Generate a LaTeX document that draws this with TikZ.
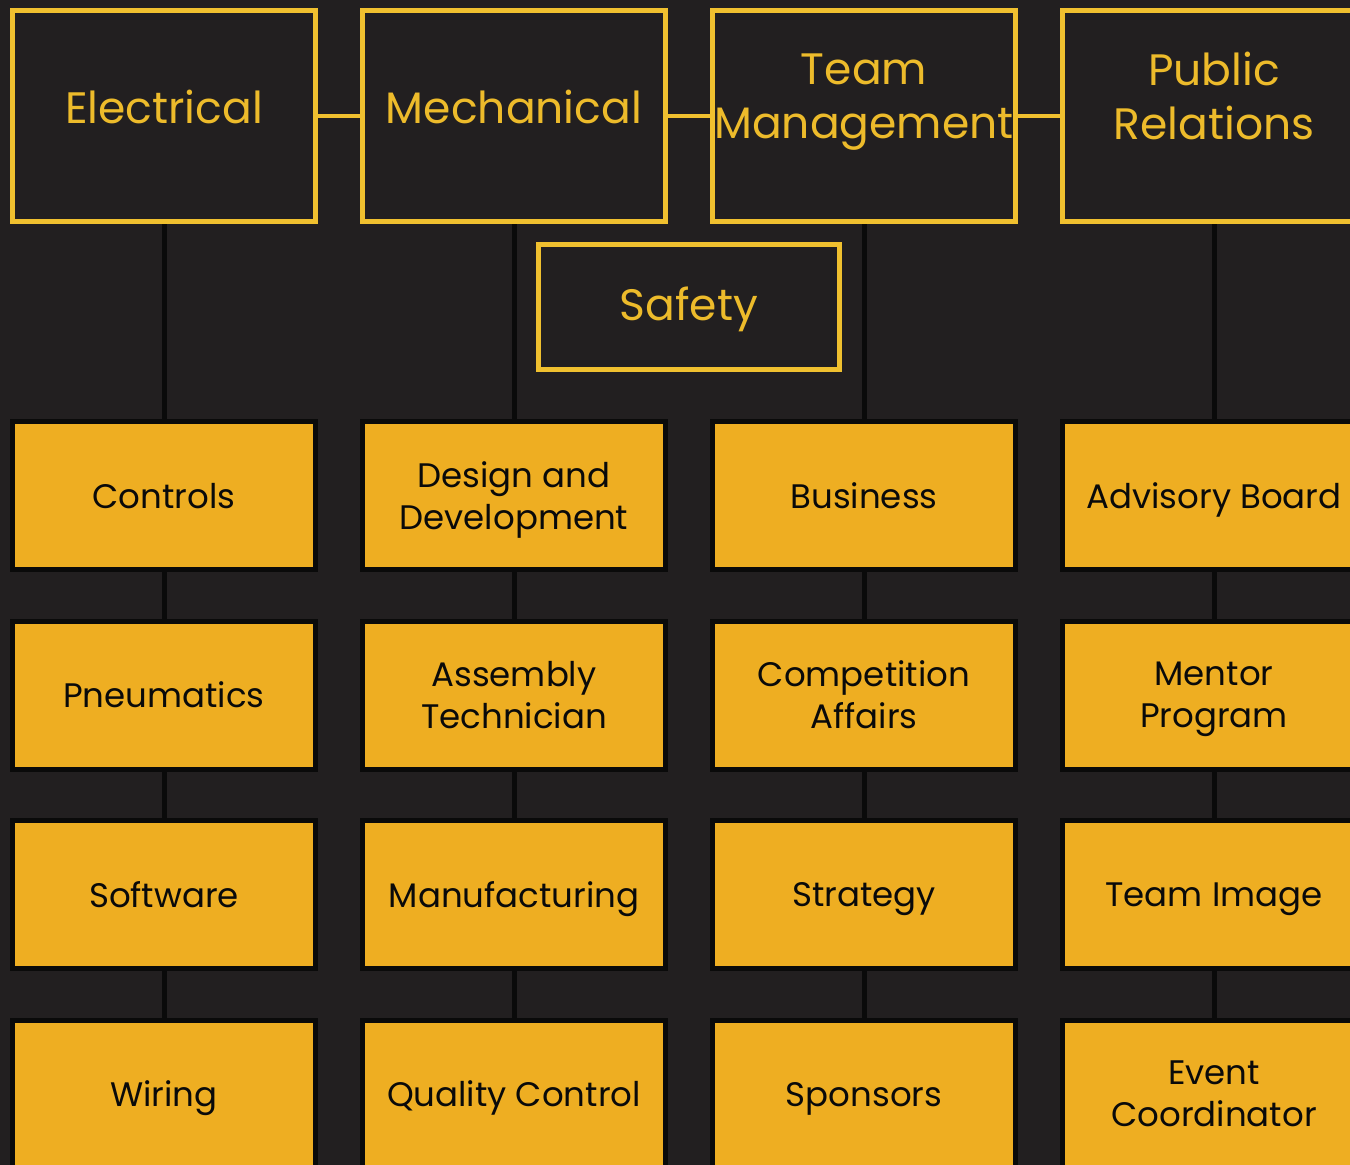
\documentclass[tikz,border=0pt]{standalone}
\usepackage{fontspec}
\setmainfont{Poppins}
\usepackage{tikz}
\usetikzlibrary{positioning, backgrounds}
\definecolor{fondo}{HTML}{221F20}
\definecolor{amarillo}{HTML}{EEAE22}
\definecolor{borde}{HTML}{F0C02F}
\definecolor{textoarea}{HTML}{EDBB2B}
\definecolor{negro}{HTML}{0A0A0A}
\tikzset{
  areabox/.style={draw=borde, line width=5pt, fill=fondo, minimum width=303pt, minimum height=211pt, inner sep=0pt},
  areatext/.style={text=textoarea, font=\fontsize{44}{54}\selectfont, align=center, text depth=0pt},
  subbox/.style={draw=negro, line width=5pt, fill=amarillo, minimum width=303pt, minimum height=148pt, inner sep=0pt, align=center, text=negro, text depth=0pt, font=\fontsize{34}{42}\selectfont},
  enlace/.style={draw=borde, line width=4pt},
  rama/.style={draw=negro, line width=5pt}
}
\begin{document}
\begin{tikzpicture}[x=1pt,y=-1pt]
        \useasboundingbox (0,0) rectangle (1350,1165);
        % Áreas principales
        \node[areabox, label={[areatext,yshift=9pt]center:Electrical}] (elec) at (164,116) {};
        \node[areabox, label={[areatext,yshift=9pt]center:Mechanical}] (mech) at (514,116) {};
        \node[areabox, label={[areatext,yshift=20pt]center:{Team\\Management}}] (team) at (864,116) {};
        \node[areabox, label={[areatext,yshift=20pt]center:{Public\\Relations}}] (pr) at (1214,116) {};
        \node[areabox, minimum width=301pt, minimum height=125pt, label={[areatext,yshift=3pt]center:Safety}] (safety) at (689,307) {};
        % Subáreas por columna
        \foreach \t [count=\r] in {Controls, Pneumatics, Software, Wiring}
            \node[subbox] (s1-\r) at (164,296+199.5*\r) {\t};
        \foreach \t [count=\r] in {{Design and\\Development}, {Assembly\\Technician}, Manufacturing, Quality Control}
            \node[subbox] (s2-\r) at (514,296+199.5*\r) {\t};
        \foreach \t [count=\r] in {Business, {Competition\\Affairs}, Strategy, Sponsors}
            \node[subbox] (s3-\r) at (864,296+199.5*\r) {\t};
        \foreach \t [count=\r] in {Advisory Board, {Mentor\\Program}, Team Image, {Event\\Coordinator}}
            \node[subbox] (s4-\r) at (1214,296+199.5*\r) {\t};
        \begin{scope}[on background layer]
            \fill[fondo] (0,0) rectangle (1350,1165);
            \draw[enlace] (elec) -- (mech) (mech) -- (team) (team) -- (pr);
            \draw[rama] (elec) -- (s1-1) (mech) -- (s2-1) (team) -- (s3-1) (pr) -- (s4-1);
            \foreach \c in {1,...,4} {
                \foreach \r [evaluate=\r as \n using int(\r+1)] in {1,2,3} {
                    \draw[rama] (s\c-\r) -- (s\c-\n);
                }
            }
        \end{scope}
    \end{tikzpicture}
\end{document}
